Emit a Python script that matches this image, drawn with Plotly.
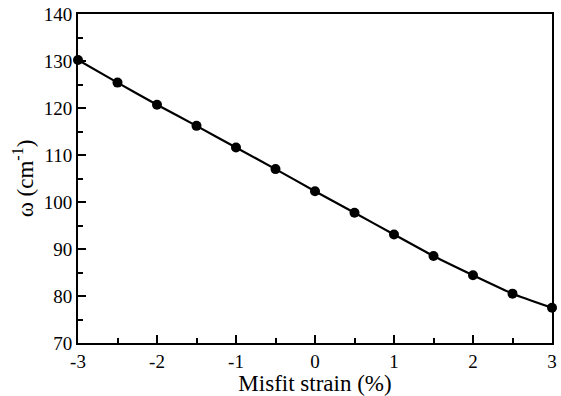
import plotly.graph_objects as go

strain = [-3, -2.5, -2, -1.5, -1, -0.5, 0, 0.5, 1, 1.5, 2, 2.5, 3]
omega = [130.2, 125.4, 120.7, 116.2, 111.6, 107.0, 102.3, 97.7, 93.1, 88.5, 84.4, 80.5, 77.5]

x_ticks = [-3, -2, -1, 0, 1, 2, 3]
y_ticks = [70, 80, 90, 100, 110, 120, 130, 140]

SERIF = "Liberation Serif, Times New Roman, serif"

fig = go.Figure()
fig.add_trace(go.Scatter(
    x=strain, y=omega, mode="lines+markers",
    line=dict(color="black", width=2.2, shape="spline", smoothing=0.5),
    marker=dict(color="black", size=10),
    cliponaxis=False, showlegend=False,
))

axis_common = dict(
    showgrid=False, zeroline=False, showline=True, linecolor="black", linewidth=2,
    mirror=True, ticks="inside", ticklen=8, tickwidth=2, tickcolor="black",
    tickfont=dict(family=SERIF, size=19, color="black"),
)

fig.update_xaxes(
    range=[-3, 3], tickvals=x_ticks, ticktext=[str(v) for v in x_ticks],
    minor=dict(dtick=0.5, tick0=0, ticks="inside", ticklen=5, tickwidth=2, tickcolor="black"),
    title=dict(text="Misfit strain (%)", font=dict(family=SERIF, size=23, color="black"), standoff=4),
    **axis_common,
)
fig.update_yaxes(
    range=[70, 140], tickvals=y_ticks,
    minor=dict(dtick=5, tick0=0, ticks="inside", ticklen=5, tickwidth=2, tickcolor="black"),
    title=dict(text="ω (cm<sup>-1</sup>)", font=dict(family=SERIF, size=23, color="black"), standoff=4),
    **axis_common,
)

fig.update_layout(
    width=561, height=396,
    font=dict(family=SERIF),
    margin=dict(l=78, r=4, t=11, b=50),
    paper_bgcolor="white", plot_bgcolor="white",
)

fig.write_html("out.html")
